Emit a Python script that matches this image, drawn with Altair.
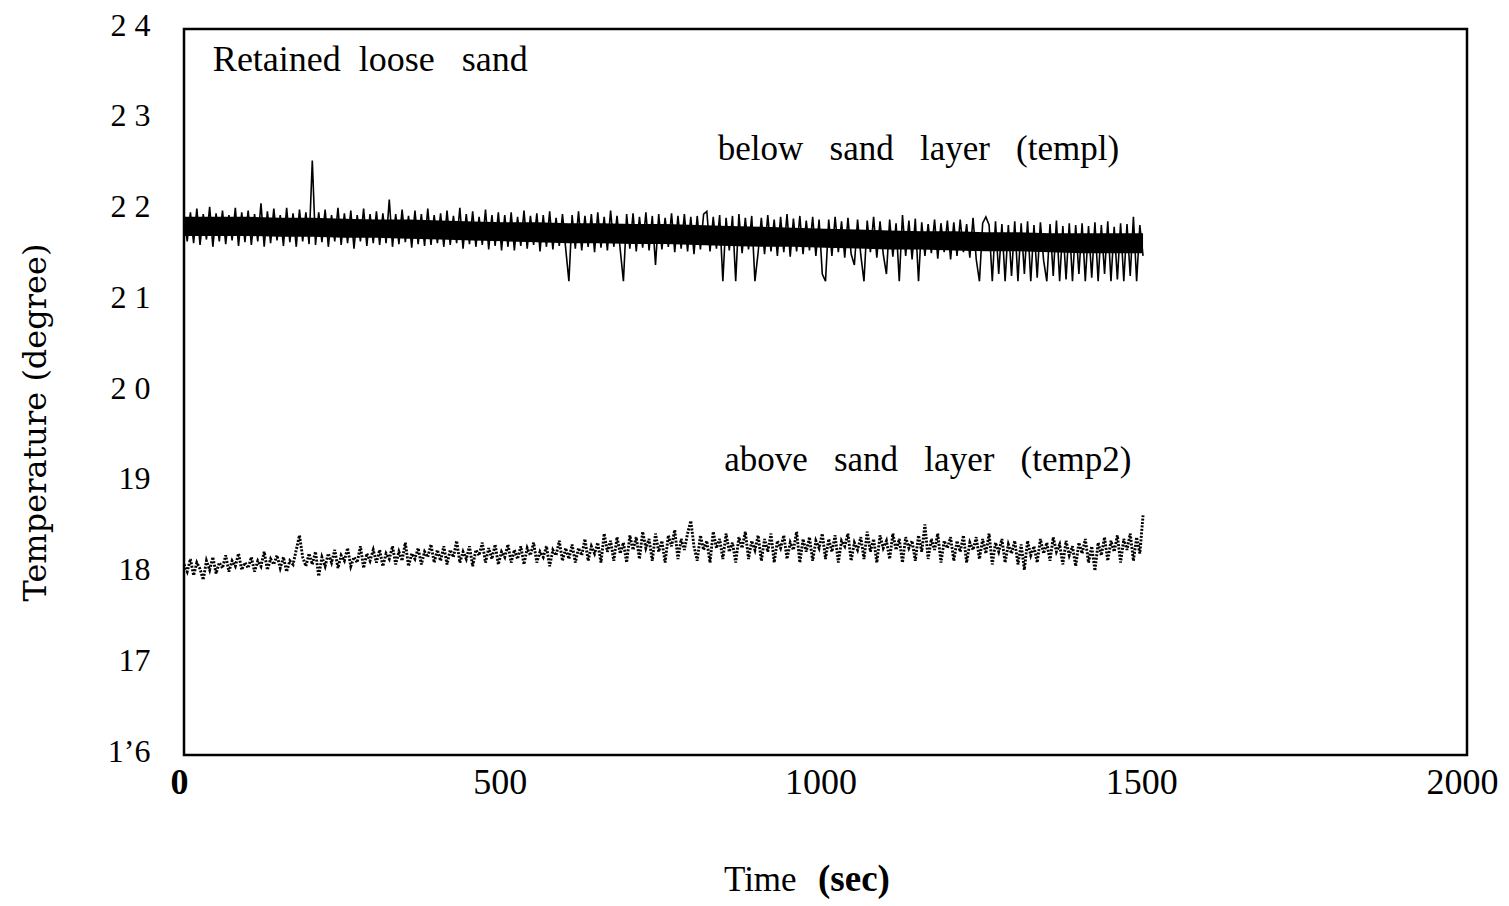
import altair as alt
import pandas as pd

# ---------------- data ----------------
TIME_STEP = 5  # seconds between plotted samples (0 .. 1495 s)

# below sand layer (temp1), degrees
TEMP1 = [
    21.95, 21.66, 21.98, 21.64, 22.02, 21.62, 21.96, 21.68, 22.04, 21.60, 21.97, 21.66, 22.00, 21.63, 21.95, 21.67, 22.03, 21.61, 21.98, 21.65,
    22.00, 21.62, 21.96, 21.66, 22.08, 21.60, 21.99, 21.64, 22.02, 21.67, 21.95, 21.61, 22.03, 21.65, 21.97, 21.60, 22.01, 21.66, 21.98, 21.63,
    22.55, 21.62, 21.98, 21.65, 22.01, 21.60, 21.95, 21.66, 22.03, 21.62, 21.97, 21.64, 22.00, 21.58, 21.95, 21.66, 22.02, 21.61, 21.96, 21.64,
    21.99, 21.62, 21.97, 21.64, 22.12, 21.60, 21.96, 21.63, 22.01, 21.65, 21.94, 21.59, 22.00, 21.63, 21.96, 21.61, 22.02, 21.62, 21.95, 21.64,
    21.97, 21.60, 22.00, 21.62, 21.94, 21.64, 22.03, 21.58, 21.96, 21.63, 21.99, 21.60, 21.93, 21.62, 22.01, 21.57, 21.95, 21.61, 21.98, 21.56,
    21.95, 21.60, 21.98, 21.56, 21.93, 21.61, 22.00, 21.58, 21.94, 21.62, 21.97, 21.55, 21.95, 21.60, 21.99, 21.57, 21.92, 21.61, 21.96, 21.58,
    21.22, 21.95, 21.58, 21.99, 21.56, 21.94, 21.60, 21.96, 21.54, 21.98, 21.59, 21.93, 21.56, 22.00, 21.60, 21.94, 21.57, 21.22, 21.96, 21.58,
    21.97, 21.55, 21.93, 21.59, 21.98, 21.56, 21.94, 21.40, 21.96, 21.57, 21.92, 21.60, 21.97, 21.54, 21.94, 21.58, 21.96, 21.55, 21.93, 21.52,
    21.94, 21.57, 21.96, 21.99, 21.55, 21.93, 21.58, 21.95, 21.22, 21.92, 21.56, 21.94, 21.22, 21.96, 21.53, 21.92, 21.57, 21.94, 21.22, 21.54,
    21.92, 21.52, 21.95, 21.55, 21.90, 21.50, 21.93, 21.54, 21.96, 21.49, 21.91, 21.55, 21.94, 21.52, 21.89, 21.56, 21.93, 21.50, 21.90, 21.30,
    21.22, 21.90, 21.50, 21.93, 21.54, 21.88, 21.48, 21.92, 21.52, 21.40, 21.90, 21.51, 21.22, 21.89, 21.54, 21.93, 21.48, 21.88, 21.52, 21.30,
    21.90, 21.49, 21.86, 21.22, 21.95, 21.50, 21.89, 21.46, 21.91, 21.22, 21.87, 21.50, 21.85, 21.53, 21.90, 21.47, 21.86, 21.54, 21.89, 21.46,
    21.87, 21.50, 21.90, 21.54, 21.85, 21.48, 21.92, 21.46, 21.22, 21.86, 21.93, 21.84, 21.22, 21.88, 21.30, 21.85, 21.22, 21.84, 21.28, 21.88,
    21.22, 21.86, 21.30, 21.88, 21.22, 21.84, 21.26, 21.87, 21.45, 21.22, 21.85, 21.28, 21.89, 21.22, 21.83, 21.24, 21.86, 21.22, 21.84, 21.30,
    21.86, 21.22, 21.83, 21.26, 21.87, 21.22, 21.84, 21.30, 21.88, 21.22, 21.82, 21.24, 21.86, 21.22, 21.85, 21.28, 21.93, 21.22, 21.84, 21.50,
]

# above sand layer (temp2), degrees
TEMP2 = [
    18.10, 18.02, 18.16, 17.98, 18.12, 18.05, 17.93, 18.14, 18.04, 18.18, 18.00, 18.12, 18.06, 18.20, 18.02, 18.14, 18.08, 18.22, 18.04, 18.12,
    18.06, 18.18, 18.02, 18.14, 18.08, 18.24, 18.04, 18.16, 18.10, 18.20, 18.06, 18.18, 18.02, 18.14, 18.10, 18.26, 18.42, 18.18, 18.08, 18.22,
    18.10, 18.24, 17.97, 18.18, 18.08, 18.22, 18.12, 18.26, 18.06, 18.20, 18.14, 18.28, 18.08, 18.18, 18.12, 18.30, 18.06, 18.22, 18.14, 18.26,
    18.12, 18.26, 18.08, 18.22, 18.16, 18.30, 18.10, 18.24, 18.14, 18.34, 18.08, 18.22, 18.16, 18.28, 18.10, 18.24, 18.18, 18.32, 18.12, 18.26,
    18.14, 18.30, 18.10, 18.26, 18.18, 18.36, 18.12, 18.24, 18.16, 18.30, 18.08, 18.26, 18.20, 18.34, 18.12, 18.28, 18.16, 18.32, 18.10, 18.24,
    18.18, 18.32, 18.12, 18.26, 18.16, 18.30, 18.10, 18.28, 18.20, 18.34, 18.12, 18.24, 18.18, 18.30, 18.08, 18.26, 18.20, 18.36, 18.14, 18.28,
    18.16, 18.32, 18.12, 18.28, 18.20, 18.38, 18.14, 18.30, 18.22, 18.34, 18.12, 18.44, 18.24, 18.36, 18.14, 18.40, 18.22, 18.34, 18.12, 18.42,
    18.26, 18.40, 18.16, 18.46, 18.28, 18.38, 18.14, 18.44, 18.24, 18.36, 18.12, 18.42, 18.30, 18.48, 18.16, 18.38, 18.26, 18.44, 18.58, 18.30,
    18.14, 18.42, 18.26, 18.36, 18.12, 18.46, 18.28, 18.38, 18.16, 18.44, 18.24, 18.34, 18.12, 18.40, 18.28, 18.46, 18.16, 18.36, 18.26, 18.42,
    18.14, 18.38, 18.24, 18.44, 18.12, 18.36, 18.28, 18.42, 18.16, 18.34, 18.26, 18.46, 18.12, 18.38, 18.24, 18.40, 18.14, 18.36, 18.28, 18.44,
    18.16, 18.38, 18.24, 18.42, 18.12, 18.36, 18.30, 18.44, 18.14, 18.34, 18.26, 18.40, 18.16, 18.46, 18.24, 18.38, 18.12, 18.42, 18.28, 18.36,
    18.16, 18.44, 18.26, 18.38, 18.12, 18.40, 18.28, 18.36, 18.14, 18.42, 18.24, 18.54, 18.16, 18.38, 18.26, 18.44, 18.12, 18.36, 18.28, 18.40,
    18.14, 18.36, 18.24, 18.42, 18.12, 18.34, 18.26, 18.40, 18.16, 18.38, 18.22, 18.44, 18.10, 18.34, 18.24, 18.38, 18.12, 18.32, 18.22, 18.36,
    18.10, 18.32, 18.04, 18.36, 18.20, 18.30, 18.12, 18.38, 18.22, 18.34, 18.14, 18.40, 18.24, 18.32, 18.10, 18.36, 18.20, 18.30, 18.08, 18.34,
    18.22, 18.38, 18.12, 18.30, 18.03, 18.34, 18.20, 18.40, 18.14, 18.36, 18.24, 18.42, 18.12, 18.38, 18.26, 18.44, 18.14, 18.40, 18.22, 18.64,
]

# solid dark core of the temp1 trace, read every 50 s (0 .. 1495 s)
ENV_TIME = [0, 50, 100, 150, 200, 250, 300, 350, 400, 450, 500, 550, 600, 650, 700, 750,
            800, 850, 900, 950, 1000, 1050, 1100, 1150, 1200, 1250, 1300, 1350, 1400, 1450, 1495]
CORE1_LOW = [21.72, 21.72, 21.72, 21.71, 21.71, 21.70, 21.70, 21.69, 21.68, 21.67, 21.66, 21.65, 21.64,
             21.64, 21.63, 21.63, 21.62, 21.61, 21.60, 21.60, 21.59, 21.58, 21.57, 21.57, 21.56, 21.55,
             21.55, 21.54, 21.53, 21.53, 21.53]
CORE1_HIGH = [21.93, 21.93, 21.93, 21.92, 21.92, 21.91, 21.90, 21.90, 21.89, 21.88, 21.87, 21.87, 21.86,
              21.86, 21.85, 21.85, 21.84, 21.83, 21.82, 21.81, 21.80, 21.79, 21.78, 21.77, 21.77, 21.76,
              21.76, 21.75, 21.75, 21.75, 21.75]

X_TICKS = [0, 500, 1000, 1500, 2000]
Y_TICKS = [16, 17, 18, 19, 20, 21, 22, 23, 24]
Y_TICK_LABELS = ["1\u20196", "17", "18", "19", "2 0", "2 1", "2 2", "2 3", "2 4"]

NOTE_TEXT = ["Retained\u00a0 loose\u00a0\u00a0 sand",
             "below\u00a0\u00a0 sand\u00a0\u00a0 layer\u00a0\u00a0 (templ)",
             "above\u00a0\u00a0 sand\u00a0\u00a0 layer\u00a0\u00a0 (temp2)"]
NOTE_SIZE = [36, 35, 35]
NOTE_X = [45, 832, 842]
NOTE_Y = [23.54, 22.56, 19.13]

# ---------------- build chart ----------------
n = len(TEMP1)
times = [i * TIME_STEP for i in range(n)]
df1 = pd.DataFrame({"time": times, "temp": TEMP1})
df2 = pd.DataFrame({"time": times[:len(TEMP2)], "temp": TEMP2})
core = pd.DataFrame({"time": ENV_TIME, "lo1": CORE1_LOW, "hi1": CORE1_HIGH})
notes = pd.DataFrame({"x": NOTE_X, "y": NOTE_Y, "label": NOTE_TEXT, "size": NOTE_SIZE})

W, H = 1283, 726

label_expr = " : ".join(
    f"datum.value == {v} ? '{t}'" for v, t in zip(Y_TICKS, Y_TICK_LABELS)
) + " : ''"

x_scale = alt.Scale(domain=[0, 2000], nice=False, zero=False)
y_scale = alt.Scale(domain=[16, 24], nice=False, zero=False)

x_enc = alt.X(
    "time:Q",
    scale=x_scale,
    axis=alt.Axis(
        values=X_TICKS, format="d", title=None, grid=False, domain=False, ticks=False, tickSize=0,
        labelFont="Liberation Serif", labelFontSize=36, labelColor="black",
        labelPadding=10, labelOffset=-5, labelFlush=False,
        labelFontWeight={"expr": "datum.value == 0 ? 'bold' : 'normal'"},
    ),
)
y_enc = alt.Y(
    "temp:Q",
    scale=y_scale,
    axis=alt.Axis(
        values=Y_TICKS, labelExpr=label_expr, grid=False, domain=False, ticks=False, tickSize=0,
        labelFont="Liberation Serif", labelFontSize=32, labelColor="black",
        labelPadding=34, labelOffset=-4, labelFlush=False,
        title="Temperature (degree)", titleFont="DejaVu Serif", titleFontSize=32,
        titleFontWeight="normal", titleColor="black", titleAngle=270,
        titleX=-149, titleY=393, titleAlign="center", titleBaseline="middle",
    ),
)

band1 = alt.Chart(core).mark_area(color="black", opacity=1).encode(
    x=alt.X("time:Q", scale=x_scale), y=alt.Y("lo1:Q", scale=y_scale), y2="hi1:Q"
)
line1 = alt.Chart(df1).mark_line(color="black", strokeWidth=1.6).encode(x=x_enc, y=y_enc)
line2 = alt.Chart(df2).mark_line(
    color="black", strokeWidth=2.9, strokeDash=[2, 1.5]
).encode(x=x_enc, y=y_enc)

note_marks = alt.Chart(notes).mark_text(
    font="Liberation Serif", color="black", align="left", baseline="alphabetic"
).encode(x="x:Q", y="y:Q", text="label:N", size=alt.Size("size:Q", scale=None, legend=None))

xt1 = alt.Chart(pd.DataFrame({"t": ["Time"]})).mark_text(
    font="Liberation Serif", fontSize=35, color="black", align="left", baseline="alphabetic"
).encode(x=alt.value(540), y=alt.value(862), text="t:N")
xt2 = alt.Chart(pd.DataFrame({"t": ["(sec)"]})).mark_text(
    font="Liberation Serif", fontSize=37, fontWeight="bold", color="black", align="left",
    baseline="alphabetic"
).encode(x=alt.value(634), y=alt.value(862), text="t:N")

chart = alt.layer(band1, line1, line2, note_marks, xt1, xt2).properties(
    width=W, height=H,
    background="white",
    autosize=alt.AutoSizeParams(type="none"),
    padding={"left": 184, "top": 29, "right": 42, "bottom": 151},
).configure_view(
    stroke="black", strokeWidth=2.5
)

chart.save("out.html", embed_options={"renderer": "svg", "actions": False})
